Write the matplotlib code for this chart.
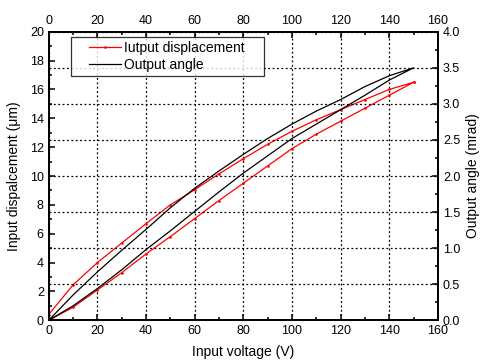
import matplotlib
matplotlib.use("Agg")
import matplotlib.pyplot as plt
from matplotlib.ticker import MultipleLocator, FormatStrFormatter
from matplotlib.legend_handler import HandlerLine2D

plt.rcParams['font.family'] = ['Liberation Sans', 'DejaVu Sans']

# Input voltage (V): ascending then descending
volt_up = [0, 10, 20, 30, 40, 50, 60, 70, 80, 90, 100, 110, 120, 130, 140, 150]
volt_down = [150, 140, 130, 120, 110, 100, 90, 80, 70, 60, 50, 40, 30, 20, 10, 0]

# Displacement (um)
disp_up = [0, 0.9, 2.1, 3.3, 4.6, 5.8, 7.05, 8.3, 9.5, 10.7, 11.9, 12.9, 13.8, 14.7, 15.6, 16.5]
disp_down = [16.5, 16.0, 15.3, 14.6, 13.9, 13.1, 12.2, 11.2, 10.15, 9.05, 8.0, 6.7, 5.35, 4.0, 2.45, 0.4]

# Output angle (mrad)
angle_up = [0, 0.20, 0.44, 0.70, 0.98, 1.24, 1.51, 1.78, 2.04, 2.28, 2.52, 2.72, 2.92, 3.12, 3.33, 3.50]
angle_down = [3.50, 3.39, 3.24, 3.06, 2.90, 2.72, 2.52, 2.30, 2.07, 1.83, 1.56, 1.26, 0.97, 0.67, 0.35, 0.0]

volts = volt_up + volt_down
disp = disp_up + disp_down
angle = angle_up + angle_down

fig = plt.figure(figsize=(4.84, 3.62), dpi=100)
ax = fig.add_axes([0.1006, 0.1152, 0.8044, 0.7972])
ax2 = ax.twinx()

l1, = ax.plot(volts, disp, color='red', lw=0.9, marker='.', markersize=1.8,
              label='Iutput displacement')
l2, = ax2.plot(volts, angle, color='black', lw=0.9, label='Output angle')

ax.set_xlim(0, 160)
ax.set_ylim(0, 20)
ax2.set_ylim(0, 4)

ax.xaxis.set_major_locator(MultipleLocator(20))
ax.xaxis.set_minor_locator(MultipleLocator(10))
ax.yaxis.set_major_locator(MultipleLocator(2))
ax.yaxis.set_minor_locator(MultipleLocator(1))
ax2.yaxis.set_major_locator(MultipleLocator(0.5))
ax2.yaxis.set_minor_locator(MultipleLocator(0.25))
ax2.yaxis.set_major_formatter(FormatStrFormatter('%.1f'))

for a in (ax, ax2):
    for s in a.spines.values():
        s.set_linewidth(1.3)

ax.tick_params(which='both', direction='in', top=True, labeltop=True,
               labelsize=9, width=1.1)
ax.tick_params(which='major', length=4)
ax.tick_params(which='minor', length=2.5)
ax2.tick_params(which='both', direction='in', labelsize=9, width=1.1)
ax2.tick_params(which='major', length=4)
ax2.tick_params(which='minor', length=2.5)

ax.xaxis.grid(True, which='major', color='black', linestyle=(0, (1.5, 2)), lw=0.9)
ax2.yaxis.grid(True, which='major', color='black', linestyle=(0, (1.5, 2)), lw=0.9)

ax.set_xlabel('Input voltage (V)', fontsize=10)
ax.set_ylabel('Input dispalcement (\u03bcm)', fontsize=10)
ax2.set_ylabel('Output angle (mrad)', fontsize=10)
ax.xaxis.set_label_coords(0.5, -0.086)
ax.yaxis.set_label_coords(-0.0706, 0.5)
ax2.yaxis.set_label_coords(1.073, 0.5)

hm = {l1: HandlerLine2D(xpad=1.06, numpoints=1), l2: HandlerLine2D(xpad=1.06, numpoints=1)}
leg = ax2.legend([l1, l2], ['Iutput displacement', 'Output angle'],
                 loc='upper left', bbox_to_anchor=(0.0565, 0.9806 - 0.133, 0.4965, 0.133),
                 mode='expand', fontsize=10, handler_map=hm,
                 frameon=True, fancybox=False, edgecolor='black',
                 borderpad=0.28, labelspacing=0.2, handlelength=3.32,
                 handletextpad=0.26, borderaxespad=0.0)
leg.get_frame().set_linewidth(0.9)

fig.savefig('out.png', dpi=100)
